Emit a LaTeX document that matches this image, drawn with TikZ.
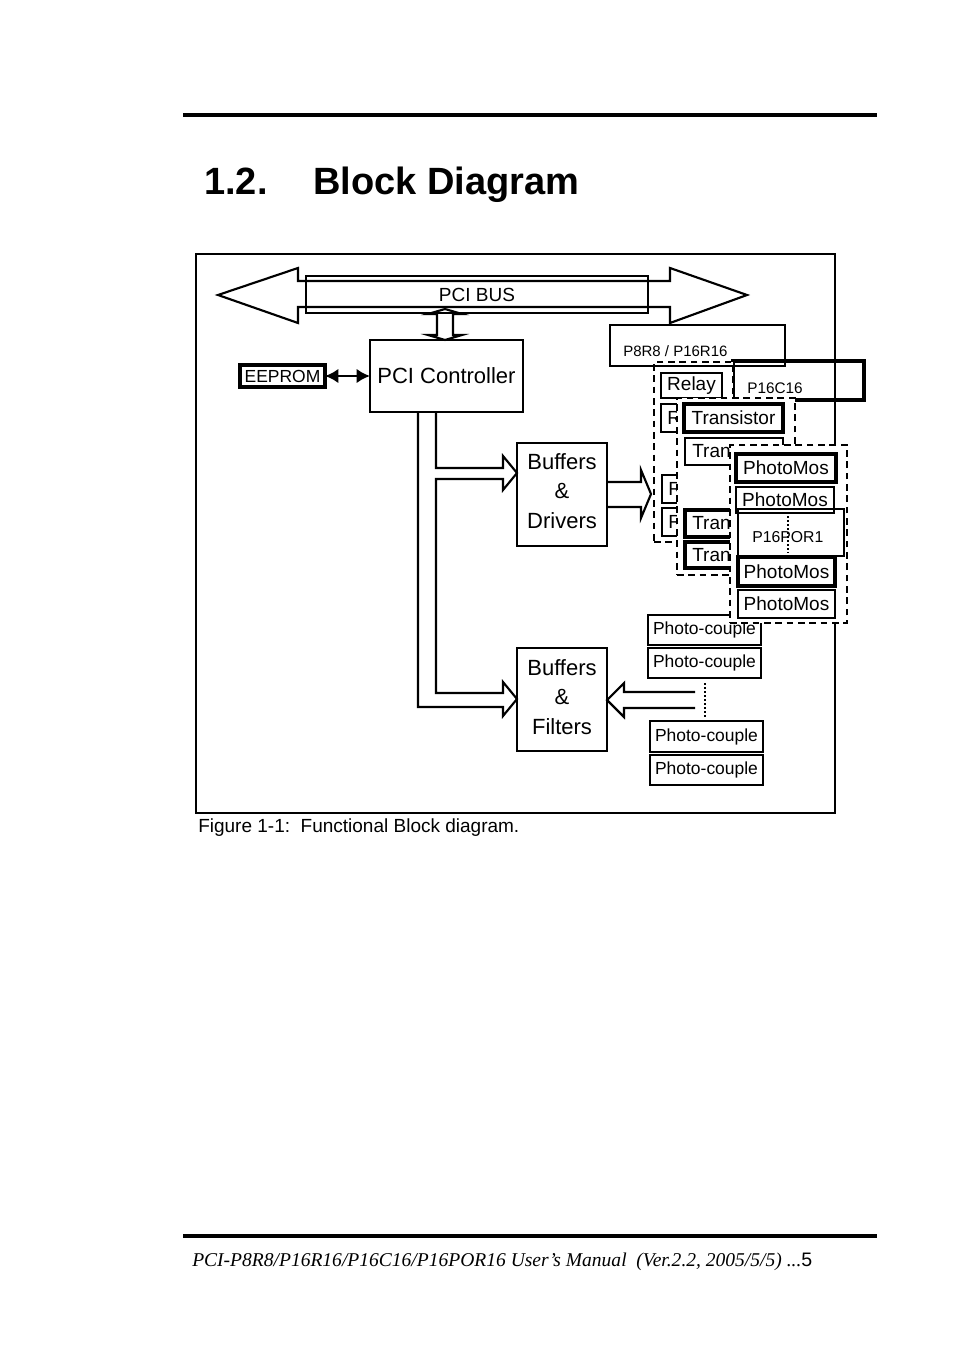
\documentclass[tikz,border=0pt]{standalone}
\usepackage{fontspec}
\setmainfont{Liberation Sans}
\newfontfamily\footserif{Liberation Serif}
\usetikzlibrary{fit,arrows.meta,calc}
\begin{document}
\begin{tikzpicture}[x=0.75pt,y=-0.75pt,
  thinbx/.style={draw, line width=1.1pt, inner sep=0pt, outer sep=0pt},
  bx/.style={draw, line width=1.4pt, inner sep=0pt, outer sep=0pt},
  medbx/.style={draw, line width=1.9pt, inner sep=0pt, outer sep=0pt},
  thickbx/.style={draw, line width=2.4pt, inner sep=0pt, outer sep=0pt},
  dframe/.style={draw, fill=white, line width=1.8pt, dash pattern=on 5pt off 3.5pt, inner sep=0pt, outer sep=0pt},
  hollow/.style={draw, line width=1.6pt, line join=miter},
  dotline/.style={line width=1.5pt, dash pattern=on 1.5pt off 1.5pt},
  big/.style={font=\fontsize{16.5}{22}\selectfont, align=center},
  mid/.style={font=\fontsize{14.25}{16}\selectfont},
  small/.style={font=\fontsize{13.1}{15}\selectfont},
  tiny/.style={font=\fontsize{11.5}{13}\selectfont},
  txt/.style={inner sep=0pt, anchor=base west}
]
\fill[white] (0,0) rectangle (954,1351);
\useasboundingbox (0,0) rectangle (954,1351);

% page rules and title
\draw[line width=2.3pt] (183,115) -- (877,115);
\draw[line width=2.3pt] (183,1236) -- (877,1236);
\node[txt, font=\fontsize{28.5}{30}\selectfont\bfseries] (tnum) at (204,195) {1.2.};
\node[txt, font=\fontsize{28.5}{30}\selectfont\bfseries] (ttl) at (313,195) {Block Diagram};

% outer frame
\node[thinbx, fit={(196,254) (835,813)}] (frame) {};

% PCI bus
\draw[hollow] (218,295) -- (298,268) -- (298,281) -- (670,281) -- (670,268) -- (747,295)
  -- (670,323) -- (670,307) -- (298,307) -- (298,323) -- cycle;
\node[thinbx, fit={(306,276) (648,313)}] (pb) {};
\node[mid, inner sep=0pt] (pbt) at (477,295) {PCI BUS};

% PCI controller and EEPROM
\node[bx, fit={(370,340) (523,412)}] (pc) {};
\node[big, inner sep=0pt] (pct) at (pc.center) {PCI Controller};
\draw[hollow] (445,309) -- (462,314) -- (453,314) -- (453,335) -- (462,335) -- (pc.north -| 445,0)
  -- (428,335) -- (437,335) -- (437,314) -- (428,314) -- cycle;
\node[thickbx, fit={(240,365) (325,387)}] (ee) {};
\node[small, inner sep=0pt] (eet) at (ee.center) {EEPROM};
\draw[line width=2.2pt, {Latex[length=10pt,width=11pt]}-{Latex[length=10pt,width=11pt]}] (ee.east) -- (pc.west);

% buffers
\node[bx, fit={(517,443) (607,546)}] (bd) {};
\node[big, inner sep=0pt] (bdt) at (562,491) {Buffers\\\&\\Drivers};
\node[bx, fit={(517,648) (607,751)}] (bf) {};
\node[big, inner sep=0pt] (bft) at (562,697) {Buffers\\\&\\Filters};

\draw[hollow] (pc.south -| 436,0) -- (436,468) -- (503,468) -- (503,456) -- (bd.west |- 0,473)
  -- (503,490) -- (503,479) -- (436,479) -- (436,693) -- (503,693) -- (503,682)
  -- (bf.west |- 0,699) -- (503,716) -- (503,707) -- (418,707) -- (pc.south -| 418,0);
\draw[hollow] (bd.east |- 0,482) -- (641,482) -- (641,470) -- (651,494) -- (641,518)
  -- (641,507) -- (bd.east |- 0,507);
\draw[hollow] (695,692) -- (624,692) -- (624,683) -- (bf.east |- 0,700) -- (624,717)
  -- (624,708) -- (695,708);

% photo-couples
\node[bx, fit={(648,615) (761,645)}] (pcp1) {};
\node[bx, fit={(648,648) (761,678)}] (pcp2) {};
\node[bx, fit={(650,721) (763,752)}] (pcp3) {};
\node[bx, fit={(650,755) (763,785)}] (pcp4) {};
\foreach \n in {1,2,3,4}{\node[small, inner sep=0pt] at (pcp\n.center) {Photo-couple};}
\draw[dotline] (705,683) -- (705,718);

% P16C16 label box
\node[thickbx, fit={(733,361) (864,400)}] (c16) {};
\node[txt, tiny] (c16t) at (747,393) {P16C16};

% P8R8 / P16R16 group
\node[dframe, fit={(654,362) (733,542)}] (rframe) {};
\node[medbx, fit={(610,325) (785,366)}] (r8) {};
\node[txt, font=\fontsize{11.25}{13}\selectfont] (r8t) at (623,357) {P8R8 / P16R16};
\node[bx, fit={(661,373) (722,398)}] (r1) {};
\node[medbx, fit={(661,404) (722,432)}] (r2) {};
\node[medbx, fit={(662,475) (722,503)}] (r3) {};
\node[bx, fit={(662,508) (722,536)}] (r4) {};
\node[mid, inner sep=0pt] (r1t) at (r1.center) {Relay};
\foreach \n in {2,3,4}{\node[mid, txt] at ($(r\n.west)+(6,6)$) {R};}

% transistor group
\node[dframe, fit={(677,398) (795,575)}] (tframe) {};
\node[thickbx, fit={(684,404) (783,432)}] (t1) {};
\node[bx, fit={(685,438) (783,465)}] (t2) {};
\node[thickbx, fit={(685,510) (783,537)}] (t3) {};
\node[thickbx, fit={(685,542) (783,568)}] (t4) {};
\node[mid, inner sep=0pt] (t1t) at (t1.center) {Transistor};
\foreach \n in {2,3,4}{\node[mid, txt] at ($(t\n.west)+(7,6)$) {Tran};}

% photomos group
\node[dframe, fit={(730,445) (847,623)}] (mframe) {};
\node[thickbx, fit={(736,454) (836,482)}] (m1) {};
\node[medbx, fit={(736,487) (834,513)}] (m2) {};
\node[thickbx, fit={(738,557) (835,586)}] (m3) {};
\node[medbx, fit={(738,590) (835,618)}] (m4) {};
\foreach \n in {1,2,3,4}{\node[mid, inner sep=0pt] at (m\n.center) {PhotoMos};}
\node[medbx, fit={(738,509) (844,556)}] (por) {};
\node[txt, font=\fontsize{11.85}{13}\selectfont] (port) at (752,542) {P16POR1};
\draw[dotline] (788,516) -- (788,553);

% caption and footer
\node[txt, font=\fontsize{14.25}{16}\selectfont] (cap) at (198,832) {Figure 1-1:\ \ Functional Block diagram.};
\node[txt, font=\fontsize{14.65}{16}\selectfont] (foot) at (192,1266)
  {{\footserif\itshape PCI-P8R8/P16R16/P16C16/P16POR16 User’s Manual\ \ (Ver.2.2, 2005/5/5) ...}5};
\end{tikzpicture}
\end{document}
